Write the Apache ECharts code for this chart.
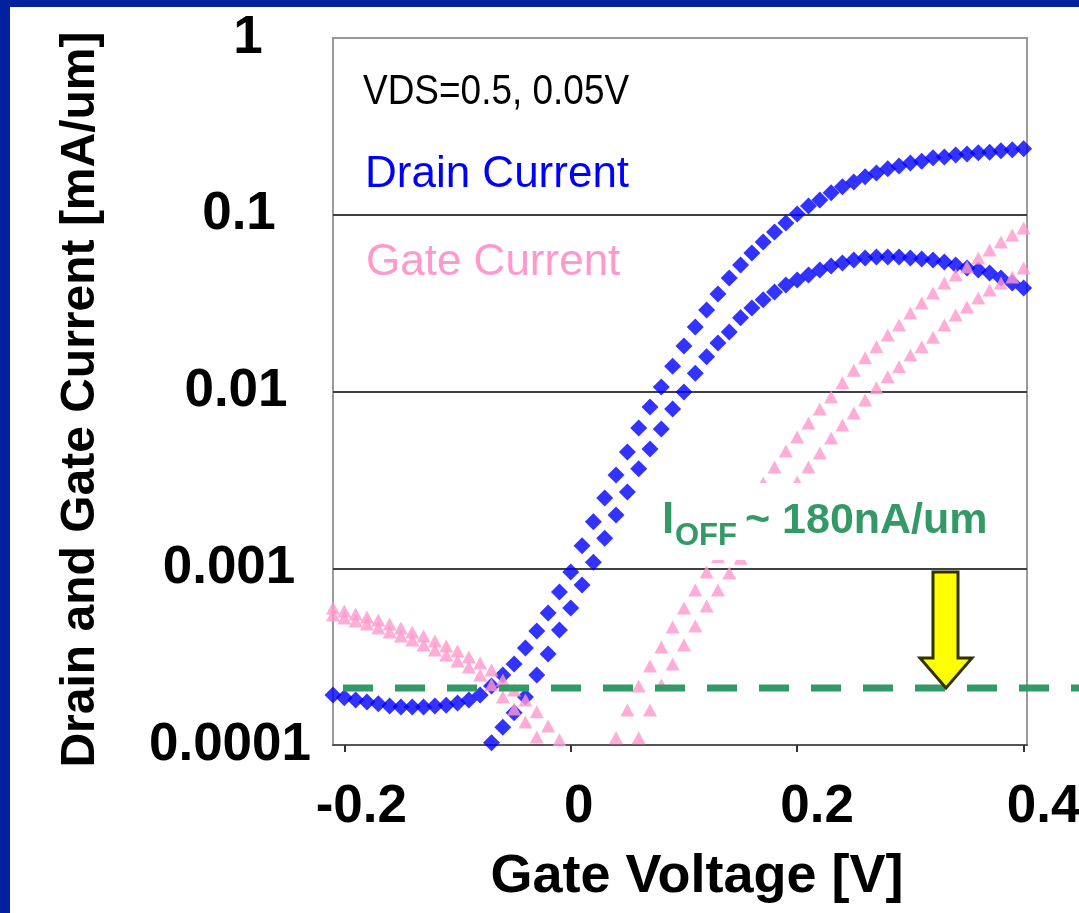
<!DOCTYPE html>
<html>
<head>
<meta charset="utf-8">
<script src="https://cdn.jsdelivr.net/npm/echarts@6/dist/echarts.min.js"></script>
<style>
html,body{margin:0;padding:0;background:#fff;}
#c{width:1079px;height:913px;}
</style>
</head>
<body>
<div id="c"></div>
<script>
// ---- data ----
const xValues = [-0.21,-0.20,-0.19,-0.18,-0.17,-0.16,-0.15,-0.14,-0.13,-0.12,-0.11,-0.10,-0.09,-0.08,-0.07,-0.06,-0.05,-0.04,-0.03,-0.02,-0.01,
  0.00,0.01,0.02,0.03,0.04,0.05,0.06,0.07,0.08,0.09,0.10,0.11,0.12,0.13,0.14,0.15,0.16,0.17,0.18,0.19,0.20,
  0.21,0.22,0.23,0.24,0.25,0.26,0.27,0.28,0.29,0.30,0.31,0.32,0.33,0.34,0.35,0.36,0.37,0.38,0.39,0.40];

// Drain current, VDS = 0.5 V
const drainHigh = [1.92e-4,1.85e-4,1.80e-4,1.75e-4,1.71e-4,1.66e-4,1.64e-4,1.64e-4,1.64e-4,1.66e-4,1.68e-4,1.73e-4,1.80e-4,1.92e-4,2.16e-4,2.49e-4,2.87e-4,3.54e-4,4.41e-4,5.58e-4,7.34e-4,
  9.52e-4,1.34e-3,1.83e-3,2.50e-3,3.37e-3,4.55e-3,6.21e-3,8.17e-3,0.0106,0.0139,0.0181,0.0232,0.0289,0.0356,0.0439,0.0520,0.0608,0.0701,0.0798,0.0898,0.101,
  0.112,0.121,0.133,0.144,0.153,0.164,0.172,0.182,0.189,0.196,0.201,0.210,0.212,0.218,0.221,0.224,0.226,0.230,0.233,0.236];

// Drain current, VDS = 0.05 V
const drainLow = [null,null,null,null,null,null,null,null,null,null,null,null,null,null,1.03e-4,1.26e-4,1.52e-4,1.87e-4,2.49e-4,3.27e-4,4.47e-4,
  5.96e-4,8.04e-4,1.08e-3,1.48e-3,2.00e-3,2.70e-3,3.65e-3,4.73e-3,6.14e-3,7.96e-3,9.93e-3,0.0127,0.0157,0.0188,0.0217,0.0261,0.0297,0.0330,0.0366,0.0401,0.0428,
  0.0456,0.0487,0.0513,0.0533,0.0555,0.0569,0.0577,0.0577,0.0577,0.0569,0.0562,0.0555,0.0540,0.0520,0.0500,0.0487,0.0468,0.0439,0.0411,0.0385];

// Gate current, VDS = 0.5 V
const gateHigh = [5.96e-4,5.73e-4,5.51e-4,5.30e-4,5.10e-4,4.84e-4,4.59e-4,4.36e-4,4.14e-4,3.88e-4,3.63e-4,3.40e-4,3.15e-4,2.91e-4,2.66e-4,2.33e-4,2.05e-4,1.80e-4,1.54e-4,1.28e-4,1.07e-4,
  null,null,null,null,null,null,1.10e-4,1.58e-4,2.19e-4,2.87e-4,3.68e-4,4.71e-4,6.12e-4,7.53e-4,9.40e-4,1.14e-3,1.37e-3,1.67e-3,2.06e-3,2.53e-3,3.08e-3,
  3.74e-3,4.49e-3,5.46e-3,6.46e-3,7.56e-3,8.95e-3,0.0105,0.0121,0.0138,0.0161,0.0179,0.0203,0.0238,0.0271,0.0301,0.0338,0.0375,0.0411,0.0445,0.0500];

// Gate current, VDS = 0.05 V
const gateLow = [5.44e-4,5.23e-4,5.03e-4,4.84e-4,4.59e-4,4.36e-4,4.14e-4,3.93e-4,3.68e-4,3.45e-4,3.23e-4,2.99e-4,2.76e-4,2.49e-4,2.19e-4,1.87e-4,1.60e-4,1.35e-4,1.11e-4,null,null,
  null,null,null,null,1.10e-4,1.58e-4,2.16e-4,2.80e-4,3.58e-4,4.65e-4,5.96e-4,7.53e-4,9.52e-4,1.16e-3,1.46e-3,1.88e-3,2.40e-3,3.04e-3,3.74e-3,4.61e-3,5.53e-3,
  6.64e-3,7.96e-3,9.31e-3,0.0112,0.0132,0.0155,0.0179,0.0209,0.0238,0.0278,0.0317,0.0361,0.0411,0.0456,0.0506,0.0569,0.0632,0.0701,0.0768,0.0841];

const xTicks = [-0.2, 0, 0.2, 0.4];
const xTickLabels = ['-0.2', '0', '0.2', '0.4'];
const yTickLabels = ['1', '0.1', '0.01', '0.001', '0.0001'];

const xAxisTitle = 'Gate Voltage [V]';
const yAxisTitle = 'Drain and Gate Current [mA/um]';
const noteVds = 'VDS=0.5, 0.05V';
const noteDrain = 'Drain Current';
const noteGate = 'Gate Current';
const ioffLevel = 2.1e-4;   // level of the dashed I_OFF line

// ---- styling ----
const FONT = '"Liberation Sans", Arial, sans-serif';
const BLUE = '#0000ff';
const PINK = '#ff99cc';
const GREEN = '#339966';
const xLabelShift = [17, 8, 20, 20];        // px, horizontal nudge of each x tick label
const yLabelShift = [12, 3, 0, -7, -6];     // px, horizontal nudge of each y tick label

function pairs(arr) {
  const out = [];
  arr.forEach((v, i) => { if (v !== null) out.push([xValues[i], v]); });
  return out;
}
function shiftPad(d) { return d >= 0 ? [0, 0, 0, 2 * d] : [0, -2 * d, 0, 0]; }
const labelBase = {fontSize: 53, fontWeight: 'bold', fontFamily: FONT, color: '#000'};
const xRich = {}; xLabelShift.forEach((d, i) => { xRich['x' + i] = Object.assign({padding: shiftPad(d)}, labelBase); });
const yRich = {}; yLabelShift.forEach((d, i) => { yRich['y' + i] = Object.assign({padding: shiftPad(d)}, labelBase); });

const chart = echarts.init(document.getElementById('c'), null, {renderer: 'canvas'});
chart.setOption({
  animation: false,
  backgroundColor: '#ffffff',
  grid: {left: 333, top: 38, width: 694, height: 707, containLabel: false, outerBoundsMode: 'none',
    show: true, borderColor: '#9a9a9a', borderWidth: 2, backgroundColor: 'transparent'},
  xAxis: {
    type: 'value', min: -0.21, max: 0.403,
    axisLine: {show: true, onZero: false, lineStyle: {color: '#555', width: 2}},
    axisTick: {show: true, customValues: xTicks, length: 7, lineStyle: {color: '#333', width: 2}},
    axisLabel: Object.assign({
      customValues: xTicks,
      formatter: v => { const k = xTicks.findIndex(t => Math.abs(t - v) < 1e-9); return k >= 0 ? '{x' + k + '|' + xTickLabels[k] + '}' : ''; },
      margin: 36, rich: xRich
    }, labelBase),
    splitLine: {show: false},
    name: xAxisTitle, nameLocation: 'middle', nameGap: 105,
    nameTextStyle: {fontSize: 54, fontWeight: 'bold', fontFamily: FONT, color: '#000', padding: [0, 0, 0, 34]}
  },
  yAxis: {
    type: 'log', logBase: 10, min: 0.0001, max: 1,
    axisLine: {show: false}, axisTick: {show: false},
    axisLabel: Object.assign({
      formatter: v => { const k = Math.round(-Math.log10(v)); return '{y' + k + '|' + yTickLabels[k] + '}'; },
      align: 'center', margin: 97, rich: yRich
    }, labelBase),
    splitLine: {show: true, showMinLine: false, showMaxLine: false, lineStyle: {color: '#404040', width: 2}},
    name: yAxisTitle, nameLocation: 'middle', nameGap: 228, nameRotate: 90,
    nameTextStyle: {fontSize: 48, fontWeight: 'bold', fontFamily: FONT, color: '#000', padding: [0, 16, 0, 0]}
  },
  series: [
    {name: 'Drain Current VDS=0.5V', type: 'scatter', symbol: 'diamond', symbolSize: 17, itemStyle: {color: BLUE}, data: pairs(drainHigh), z: 2},
    {name: 'Drain Current VDS=0.05V', type: 'scatter', symbol: 'diamond', symbolSize: 17, itemStyle: {color: BLUE}, data: pairs(drainLow), z: 2},
    {name: 'Gate Current VDS=0.5V', type: 'scatter', symbol: 'triangle', symbolSize: [14, 13], itemStyle: {color: PINK}, data: pairs(gateHigh), z: 3},
    {name: 'Gate Current VDS=0.05V', type: 'scatter', symbol: 'triangle', symbolSize: [14, 13], itemStyle: {color: PINK}, data: pairs(gateLow), z: 3}
  ]
});

// ---- annotations ----
const yLine = chart.convertToPixel({xAxisIndex: 0, yAxisIndex: 0}, [0, ioffLevel])[1];
chart.setOption({
  graphic: [
    {type: 'rect', z: 200, shape: {x: 0, y: 0, width: 1079, height: 7}, style: {fill: '#0022a0'}},
    {type: 'rect', z: 200, shape: {x: 0, y: 0, width: 10, height: 913}, style: {fill: '#0022a0'}},
    {type: 'text', z: 150, x: 363, y: 92, scaleX: 0.88, style: {text: noteVds, fontSize: 42, fontFamily: FONT, fill: '#000', align: 'left', verticalAlign: 'middle'}},
    {type: 'text', z: 150, x: 365, y: 175, style: {text: noteDrain, fontSize: 44, fontFamily: FONT, fill: BLUE, align: 'left', verticalAlign: 'middle'}},
    {type: 'text', z: 150, x: 366, y: 263, style: {text: noteGate, fontSize: 44, fontFamily: FONT, fill: PINK, align: 'left', verticalAlign: 'middle'}},
    {type: 'rect', z: 150, shape: {x: 643, y: 483, width: 379, height: 77}, style: {fill: '#ffffff'}},
    {type: 'text', z: 151, x: 662, y: 521, style: {text: 'I', fontSize: 44, fontWeight: 'bold', fontFamily: FONT, fill: GREEN, align: 'left', verticalAlign: 'middle'}},
    {type: 'text', z: 151, x: 675, y: 536, style: {text: 'OFF', fontSize: 31, fontWeight: 'bold', fontFamily: FONT, fill: GREEN, align: 'left', verticalAlign: 'middle'}},
    {type: 'text', z: 151, x: 745, y: 521, style: {text: '~ 180nA/um', fontSize: 43, fontWeight: 'bold', fontFamily: FONT, fill: GREEN, align: 'left', verticalAlign: 'middle'}},
    {type: 'line', z: 160, shape: {x1: 343, y1: yLine, x2: 1079, y2: yLine}, style: {stroke: GREEN, lineWidth: 7, lineDash: [30, 22]}},
    {type: 'polygon', z: 170, shape: {points: [[933, 572], [958, 572], [958, 658], [972, 658], [946, yLine], [920, 658], [933, 658]]},
      style: {fill: '#ffff00', stroke: '#333300', lineWidth: 3, lineJoin: 'miter'}}
  ]
});
</script>
</body>
</html>
